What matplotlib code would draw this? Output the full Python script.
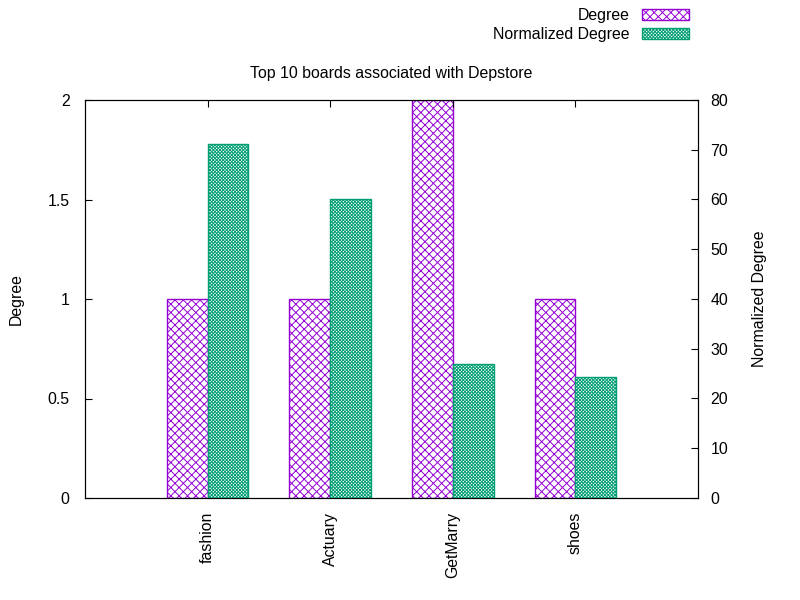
import matplotlib
matplotlib.use("Agg")
import matplotlib.pyplot as plt
import numpy as np

# Data
boards = ["fashion", "Actuary", "GetMarry", "shoes"]
degree = [1, 1, 2, 1]
norm_degree = [71.2, 60.1, 26.9, 24.3]

plt.rcParams["font.family"] = ["Liberation Sans", "DejaVu Sans"]
plt.rcParams["font.size"] = 11.4
plt.rcParams["hatch.linewidth"] = 0.7

purple = "#9400D3"
green = "#009E73"

fig = plt.figure(figsize=(8, 6), dpi=100)
ax = fig.add_axes([85 / 800, 102 / 600, 613 / 800, 398 / 600])
ax2 = ax.twinx()

x = np.arange(len(boards))
w = 1 / 3

b1 = ax.bar(x - w / 2, degree, w, facecolor="white", edgecolor=purple,
            hatch="xxxx", linewidth=1, label="Degree")
b2 = ax2.bar(x + w / 2, norm_degree, w, facecolor="white", edgecolor=green,
             hatch="xxxxxxxxxx", linewidth=1, label="Normalized Degree")

ax.set_xlim(-1, 4)
ax.set_ylim(0, 2)
ax2.set_ylim(0, 80)
ax.set_yticks([0, 0.5, 1, 1.5, 2])
ax.set_yticklabels(["0", "0.5", "1", "1.5", "2"])
ax2.set_yticks(range(0, 81, 10))
ax.set_xticks(x)
ax.set_xticklabels(boards, rotation=90)

ax.tick_params(axis="x", direction="in", top=True, length=5, pad=10)
ax.tick_params(axis="y", direction="in", length=5, pad=11)
ax2.tick_params(axis="y", direction="in", length=5, pad=9)

ax.set_ylabel("Degree", labelpad=17)
ax2.set_ylabel("Normalized Degree", labelpad=17)
ax.set_title("Top 10 boards associated with Depstore", pad=16,
             fontsize=11.4)

fig.legend([b1, b2], ["Degree", "Normalized Degree"], loc="upper right",
           bbox_to_anchor=(702 / 800, 1.007), markerfirst=False, frameon=False,
           handlelength=3.0, handleheight=0.7, handletextpad=0.75,
           labelspacing=0.22, borderpad=0.3)

fig.savefig("out.png", dpi=100)
